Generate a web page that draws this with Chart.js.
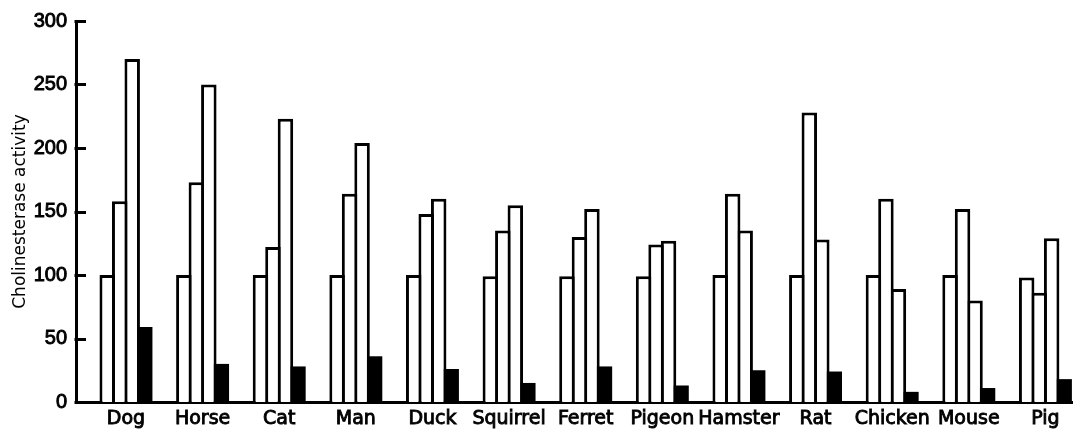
<!DOCTYPE html>
<html><head><meta charset="utf-8">
<script src="https://cdn.jsdelivr.net/npm/chart.js@4.4.1/dist/chart.umd.min.js"></script>
<style>html,body{margin:0;padding:0;background:#fff;overflow:hidden}#wrap{width:1073px;height:431px}</style>
</head><body><div id="wrap"><canvas id="c" width="1073" height="431"></canvas></div>
<script>
const categories = ['Dog','Horse','Cat','Man','Duck','Squirrel','Ferret','Pigeon','Hamster','Rat','Chicken','Mouse','Pig'];
const series1 = [100,100,100,100,100,99,99,99,100,100,100,100,98];
const series2 = [158,173,122,164,148,135,130,124,164,228,160,152,86];
const series3 = [270,250,223,204,160,155,152,127,135,128,89,80,129];
const series4 = [59,30,28,36,26,15,28,13,25,24,8,11,18];
const yTicks = [0,50,100,150,200,250,300];
const yTitle = 'Cholinesterase activity';

const toPts = arr => arr.map((v,i)=>({x:i,y:v}));
const white = {backgroundColor:'#fff', borderColor:'#000', borderWidth:3, borderSkipped:'start'};

// inward-pointing tick marks on the y axis, placed by the y scale
const inwardTicks = {
  id:'inwardTicks',
  afterDatasetsDraw(chart){
    const y = chart.scales.y, ctx = chart.ctx;
    const x0 = y.right;
    ctx.save();
    ctx.strokeStyle = '#000';
    ctx.lineWidth = 3;
    ctx.lineCap = 'butt';
    y.ticks.forEach(t => {
      const py = Math.round(y.getPixelForValue(t.value)) + 0.5;
      ctx.beginPath();
      ctx.moveTo(x0 - 1.5, py);
      ctx.lineTo(x0 + 10, py);
      ctx.stroke();
    });
    ctx.restore();
  }
};

new Chart(document.getElementById('c'), {
  type:'bar',
  data:{datasets:[
    Object.assign({data:toPts(series1)}, white),
    Object.assign({data:toPts(series2)}, white),
    Object.assign({data:toPts(series3)}, white),
    {data:toPts(series4), backgroundColor:'#000', borderColor:'#000', borderWidth:0}
  ]},
  plugins:[inwardTicks],
  options:{
    responsive:false, animation:false, devicePixelRatio:1,
    categoryPercentage:0.652, barPercentage:1.24,
    layout:{padding:{top:10,left:0,right:0,bottom:0}},
    plugins:{legend:{display:false}, tooltip:{enabled:false}},
    scales:{
      x:{type:'linear', min:-0.652, max:12.36, offset:false,
        grid:{display:false, drawTicks:false},
        border:{display:true,color:'#000',width:3},
        ticks:{stepSize:1, includeBounds:false, autoSkip:false, maxRotation:0, padding:6, color:'#000',
          textStrokeColor:'#000', textStrokeWidth:0.9,
          font:{family:'DejaVu Sans',size:19},
          callback:(v)=> (Number.isInteger(v) && categories[v]!==undefined) ? categories[v] : ''},
        afterFit:s=>{s.height=29}},
      y:{min:0,max:300,
        afterBuildTicks:s=>{s.ticks = yTicks.map(v=>({value:v}));},
        grid:{display:false, drawTicks:false},
        border:{display:true,color:'#000',width:3},
        ticks:{padding:9,color:'#000',textStrokeColor:'#000', textStrokeWidth:0.9,
          font:{family:"'Liberation Sans', sans-serif",size:20}},
        title:{display:true,text:yTitle,color:'#000',font:{family:'DejaVu Sans',size:17},padding:{top:10,bottom:0}},
        afterFit:s=>{s.width=76}}
    }
  }
});
</script></body></html>
